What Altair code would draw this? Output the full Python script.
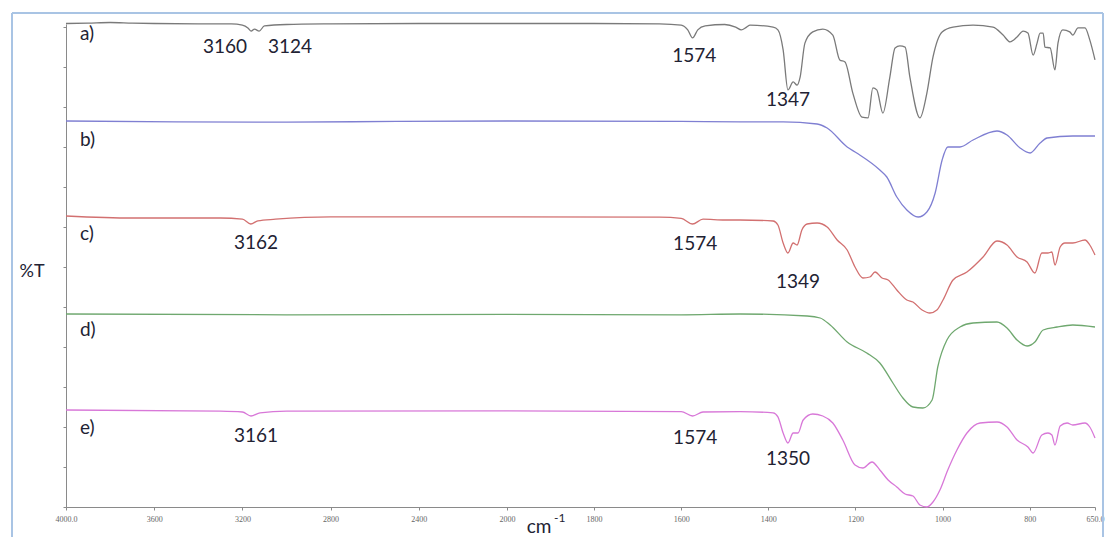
import altair as alt
import pandas as pd

# FTIR traces a)-e): wavenumber (cm-1) and band depth below each trace's baseline (%T units)
wn_a = [4000, 3900, 3800, 3700, 3600, 3400, 3250, 3200, 3175, 3160, 3145, 3124, 3100, 3000,
        2800, 2400, 2000, 1800, 1650, 1600, 1585, 1574, 1562, 1545, 1500, 1475, 1462, 1450,
        1442, 1389, 1378, 1366, 1355, 1343, 1334, 1327, 1316, 1298, 1275, 1252, 1236, 1224,
        1206, 1185, 1171, 1160, 1151, 1137, 1121, 1109, 1098, 1086, 1075, 1052, 1036, 1022,
        1001, 976, 930, 884, 861, 845, 829, 815, 804, 792, 783, 776, 769, 765, 753, 742, 735,
        724, 708, 701, 689, 673, 662, 650]
dev_a = [0, -0.1, -0.25, -0.1, 0, 0.1, 0.1, 0.4, 1.1, 1.9, 1.4, 1.9, 0.6, 0.25,
         0.1, 0, 0, 0, 0.1, 0.4, 1.6, 3.6, 1.6, 0.6, 0.25, 0.9, 1.6, 0.9,
         0.4, 0.9, 1.6, 6.6, 16.6, 14.6, 15.4, 13.4, 4.9, 2.1, 1.4, 2.9, 9.1, 9.6,
         17.4, 23.4, 23.6, 16.1, 16.6, 22.4, 13.4, 6.1, 5.6, 5.9, 13.4, 23.6, 17.4, 8.4,
         2.1, 0.9, 0.4, 0.9, 2.9, 4.6, 3.4, 1.9, 2.4, 7.9, 4.9, 2.4, 2.4, 5.9, 6.1, 11.6, 4.9,
         1.6, 2.1, 2.9, 1.1, 1.1, 4.1, 9.1]

wn_b = [4000, 3500, 3000, 2500, 2000, 1600, 1465, 1366, 1288, 1265, 1219, 1197, 1144, 1128,
        1105, 1082, 1056, 1036, 1017, 1001, 988, 960, 930, 875, 852, 822, 799, 776, 760,
        701, 650]
dev_b = [0, 0.2, 0.3, 0.1, 0, 0.1, 0.2, 0.2, 0.75, 1.75, 6.5, 8, 12.25, 14,
         19, 22.25, 24, 22.75, 18, 9.75, 6.5, 6.5, 4.75, 2.5, 3.5, 6.75, 8, 5.5, 4.25,
         3.75, 3.75]

wn_c = [4000, 3700, 3600, 3300, 3200, 3162, 3130, 3050, 2800, 2000, 1650, 1600, 1574, 1550,
        1500, 1465, 1389, 1378, 1366, 1355, 1343, 1334, 1323, 1311, 1288, 1265, 1242, 1219,
        1201, 1183, 1167, 1155, 1139, 1125, 1105, 1082, 1068, 1047, 1029, 1013, 999, 976,
        944, 907, 875, 852, 829, 806, 788, 772, 758, 749, 742, 730, 719, 701, 673, 662, 650]
dev_c = [0, 0.5, 0.5, 0.5, 0.8, 2, 1.2, 0.8, 0.2, 0.2, 0.3, 0.6, 2, 0.8,
         1, 1, 1.25, 2.25, 6.75, 9.25, 6.75, 7.25, 3.5, 2, 1.75, 2.75, 6, 8.5,
         12.75, 15.5, 15.25, 14, 15.5, 16, 18.5, 21, 21.5, 23.5, 24.25, 23.5, 21, 16,
         14, 10.25, 6.25, 7.25, 10.25, 11.5, 14.25, 9.25, 9.25, 9, 12.25, 7.75, 6.75, 6.75,
         6, 7.25, 9.75]

wn_d = [4000, 3000, 2000, 1600, 1465, 1311, 1281, 1258, 1219, 1174, 1144, 1114, 1091, 1068,
        1045, 1024, 1011, 990, 960, 930, 875, 852, 829, 806, 788, 769, 737, 701, 650]
dev_d = [0, 0.2, 0.1, 0.2, 0, 0.5, 1, 2.75, 7, 9.75, 12.25, 17.25, 21, 23.25,
         23.5, 21.5, 13.25, 6.5, 3.25, 2.25, 2, 3.5, 6.5, 8, 7, 4, 3.25, 2.75, 3.25]

wn_e = [4000, 3300, 3200, 3161, 3120, 3000, 2000, 1600, 1574, 1550, 1465, 1389, 1378, 1366,
        1355, 1343, 1332, 1320, 1298, 1275, 1252, 1229, 1201, 1183, 1162, 1144, 1125, 1105,
        1086, 1068, 1052, 1036, 1022, 1006, 988, 967, 944, 914, 875, 852, 829, 804, 792,
        772, 758, 749, 742, 730, 714, 701, 673, 662, 650]
dev_e = [0, 0.3, 0.5, 1.5, 0.7, 0.3, 0.2, 0.4, 1.5, 0.5, 0.4, 0.7, 1.7, 5.75,
         8.25, 5.75, 5.75, 2.5, 1, 1.5, 3.25, 7.5, 13.75, 14.5, 13, 15, 17.5, 19.25,
         21, 21.5, 23.75, 24.25, 23, 20, 15, 10, 5.75, 3.25, 3, 4.25, 7.5, 9.25, 10.75,
         6.25, 5.75, 6.25, 8.75, 4, 3.25, 3.75, 3.25, 4.25, 7]

# vertical offset of each trace (stacked display)
trace_names = ["a", "b", "c", "d", "e"]
trace_base = [120.875, 96.5, 72.75, 48.25, 24.25]
trace_colors = ["#7a7a7a", "#7f7fd2", "#d27070", "#6fa86f", "#d878d8"]

# trace tags drawn at the left
tag_text = ["a)", "b)", "c)", "d)", "e)"]
tag_y = [118.25, 91.75, 68.25, 44.25, 19.75]

# band annotations: text, placement (wavenumber, %T)
band_text = ["3160", "3124", "1574", "1347", "3162", "1574", "1349", "3161", "1574", "1350"]
band_x = [3279, 2984, 1570, 1355, 3138, 1568, 1332, 3138, 1568, 1355]
band_y = [115.0, 115.0, 112.75, 101.75, 66.1, 65.75, 56.25, 17.75, 17.25, 11.9]

x_ticks = [4000, 3600, 3200, 2800, 2400, 2000, 1800, 1600, 1400, 1200, 1000, 800, 650]

series = {"a": (wn_a, dev_a), "b": (wn_b, dev_b), "c": (wn_c, dev_c),
          "d": (wn_d, dev_d), "e": (wn_e, dev_e)}
rows = []
for name, base in zip(trace_names, trace_base):
    wn, dev = series[name]
    for i, (w, d) in enumerate(zip(wn, dev)):
        rows.append({"trace": name, "wn": w, "T": base - d, "idx": i})
spectra = pd.DataFrame(rows)

tags = pd.DataFrame({"text": tag_text, "wn": [3937] * 5, "T": tag_y})
bands = pd.DataFrame({"text": band_text, "wn": band_x, "T": band_y})

W, H = 1029, 483
# 2x expanded wavenumber scale below 2000 cm-1
x_scale = alt.Scale(domain=[4000, 2000, 650], range=[0, 441, W], nice=False, zero=False)
y_scale = alt.Scale(domain=[0, 120.75], nice=False, zero=False)

x_axis = alt.Axis(values=x_ticks, title=None, grid=False,
                  labelExpr="datum.value == 4000 ? '4000.0' : datum.value == 650 ? '650.0' : datum.label",
                  format="d", labelFont="Liberation Serif", labelFontSize=8, labelColor="#666666",
                  tickSize=3, tickColor="#8a8a8a", domainColor="#8a8a8a", labelPadding=5,
                  labelFlush=False)
y_axis = alt.Axis(values=list(range(0, 121, 5)), labels=False, title=None, grid=False,
                  tickSize=3, tickColor="#8a8a8a", domainColor="#8a8a8a")

lines = alt.Chart(spectra).mark_line(strokeWidth=1.3, interpolate="monotone").encode(
    x=alt.X("wn:Q", scale=x_scale, axis=x_axis),
    y=alt.Y("T:Q", scale=y_scale, axis=y_axis),
    color=alt.Color("trace:N", scale=alt.Scale(domain=trace_names, range=trace_colors), legend=None),
    order=alt.Order("idx:Q"),
    detail="trace:N",
)

tag_marks = alt.Chart(tags).mark_text(font="Lato", fontSize=19, align="left", baseline="middle",
                                      color="#222233").encode(
    x=alt.X("wn:Q", scale=x_scale), y=alt.Y("T:Q", scale=y_scale), text="text:N")

band_marks = alt.Chart(bands).mark_text(font="Lato", fontSize=19, align="center", baseline="middle",
                                        color="#222233").encode(
    x=alt.X("wn:Q", scale=x_scale), y=alt.Y("T:Q", scale=y_scale), text="text:N")

# axis titles
y_title = alt.Chart(pd.DataFrame({"t": ["%T"]})).mark_text(
    font="Lato", fontSize=18, align="center", baseline="middle", color="#222233").encode(
    x=alt.value(-34), y=alt.value(248), text="t:N")
x_title = alt.Chart(pd.DataFrame({"t": ["cm"]})).mark_text(
    font="Lato", fontSize=19, align="center", baseline="alphabetic", color="#222233").encode(
    x=alt.value(473), y=alt.value(509), text="t:N")
x_title_sup = alt.Chart(pd.DataFrame({"t": ["-1"]})).mark_text(
    font="Lato", fontSize=12, align="left", baseline="alphabetic", color="#222233").encode(
    x=alt.value(488), y=alt.value(498), text="t:N")

# light frame around the figure
frame_l = alt.Chart(pd.DataFrame({"k": [0]})).mark_rule(color="#a9c4e4", strokeWidth=2).encode(
    x=alt.value(-54), y=alt.value(-11), y2=alt.value(513))
frame_t = alt.Chart(pd.DataFrame({"k": [0]})).mark_rule(color="#a9c4e4", strokeWidth=2).encode(
    x=alt.value(-54), x2=alt.value(1037), y=alt.value(-11))
frame_r = alt.Chart(pd.DataFrame({"k": [0]})).mark_rule(color="#a9c4e4", strokeWidth=2).encode(
    x=alt.value(1037), y=alt.value(-11), y2=alt.value(513))

chart = alt.layer(
    frame_l, frame_t, frame_r, lines, tag_marks, band_marks, y_title, x_title, x_title_sup
).properties(
    width=W, height=H,
    autosize=alt.AutoSizeParams(type="none"),
    padding={"left": 66, "top": 24, "right": 10, "bottom": 30},
    background="white",
).configure_view(stroke=None)

chart.save("out.html", embed_options={"renderer": "svg", "actions": False})
